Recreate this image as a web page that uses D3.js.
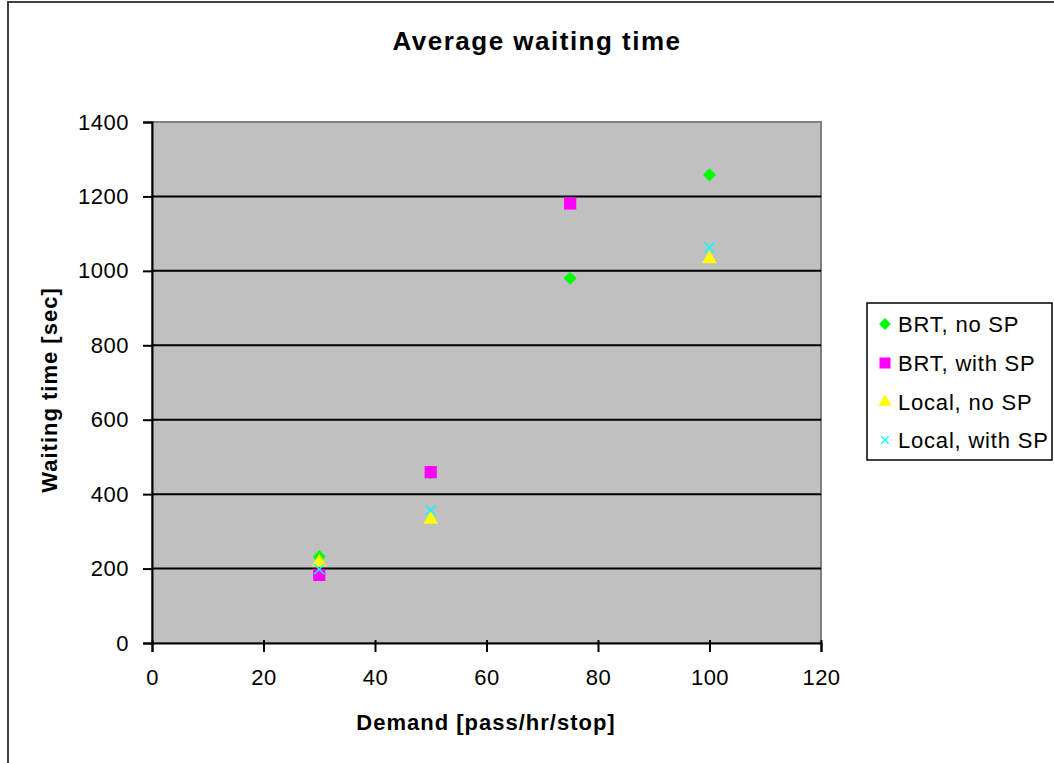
<!DOCTYPE html>
<html>
<head>
<meta charset="utf-8">
<script src="https://cdn.jsdelivr.net/npm/d3@7"></script>
<style>
  body { margin: 0; background: #fff; }
  svg { display: block; font-family: "Liberation Sans", Arial, sans-serif; }
</style>
</head>
<body>
<div id="chart"></div>
<script>
// Values
const demand = [30, 50, 75, 100];
const brtNoSP = [232, 457, 980, 1258];
const brtWithSP = [183, 459, 1181, null];
const localNoSP = [217, 332, null, 1032];
const localWithSP = [198, 356, null, 1063];

const seriesNames = ['BRT, no SP', 'BRT, with SP', 'Local, no SP', 'Local, with SP'];
const xTicks = [0, 20, 40, 60, 80, 100, 120];
const yTicks = [0, 200, 400, 600, 800, 1000, 1200, 1400];

const W = 1054, H = 763;
const plot = { left: 152, right: 821, top: 122, bottom: 643 };

const svg = d3.select('#chart').append('svg')
    .attr('width', W)
    .attr('height', H);

// outer chart frame (only left/top visible in the crop)
svg.append('rect')
    .attr('x', 8).attr('y', 2)
    .attr('width', W + 10).attr('height', H + 10)
    .attr('fill', '#fff')
    .attr('stroke', '#404040')
    .attr('stroke-width', 2);

const x = d3.scaleLinear().domain([0, 120]).range([plot.left, plot.right]);
const y = d3.scaleLinear().domain([0, 1400]).range([plot.bottom, plot.top]);

// plot area
svg.append('rect')
    .attr('x', plot.left).attr('y', plot.top)
    .attr('width', plot.right - plot.left)
    .attr('height', plot.bottom - plot.top)
    .attr('fill', '#c0c0c0')
    .attr('stroke', '#808080')
    .attr('stroke-width', 2);

// gridlines
svg.append('g').selectAll('line')
    .data(yTicks.filter(d => d > 0 && d < 1400))
    .enter().append('line')
    .attr('x1', plot.left).attr('x2', plot.right)
    .attr('y1', d => y(d)).attr('y2', d => y(d))
    .attr('stroke', '#000')
    .attr('stroke-width', 2);

// axes
const yAxis = svg.append('g')
    .attr('transform', `translate(${plot.left},0)`)
    .call(d3.axisLeft(y).tickValues(yTicks).tickFormat(d3.format('d')).tickSize(9).tickPadding(14));
const xAxis = svg.append('g')
    .attr('transform', `translate(0,${plot.bottom})`)
    .call(d3.axisBottom(x).tickValues(xTicks).tickFormat(d3.format('d')).tickSize(9).tickPadding(17));

[yAxis, xAxis].forEach(g => {
    g.select('.domain').attr('stroke', '#000').attr('stroke-width', 2);
    g.selectAll('.tick line').attr('stroke', '#000').attr('stroke-width', 2);
    g.selectAll('.tick text')
        .attr('fill', '#000')
        .style('font-size', '22px')
        .style('letter-spacing', '0.5px')
        .style('font-family', '"Liberation Sans", Arial, sans-serif');
});
xAxis.selectAll('.tick line').attr('y1', -3).attr('y2', 9);

// titles
svg.append('text')
    .attr('x', 537).attr('y', 50)
    .attr('text-anchor', 'middle')
    .style('font-size', '26px').style('font-weight', 'bold')
    .style('letter-spacing', '1.5px')
    .text('Average waiting time');

svg.append('text')
    .attr('x', 486).attr('y', 730)
    .attr('text-anchor', 'middle')
    .style('font-size', '22px').style('font-weight', 'bold')
    .style('letter-spacing', '1px')
    .text('Demand [pass/hr/stop]');

svg.append('text')
    .attr('transform', `translate(57,390) rotate(-90)`)
    .attr('text-anchor', 'middle')
    .style('font-size', '22px').style('font-weight', 'bold')
    .style('letter-spacing', '1px')
    .text('Waiting time [sec]');

// marker shapes
const markers = [
    { values: brtNoSP, color: '#00ff00', draw: () => d3.symbol(d3.symbolDiamond2, 110)() },
    { values: brtWithSP, color: '#ff00ff', draw: () => d3.symbol(d3.symbolSquare, 150)() },
    { values: localNoSP, color: '#ffff00', draw: () => d3.symbol(d3.symbolTriangle, 95)() },
    { values: localWithSP, color: '#00ffff', draw: () => 'M-5,-5L5,5M-5,5L5,-5' }
];

markers.forEach((m, i) => {
    const pts = demand.map((d, j) => ({ x: d, y: m.values[j] })).filter(p => p.y != null);
    svg.append('g').selectAll('path')
        .data(pts)
        .enter().append('path')
        .attr('transform', p => `translate(${x(p.x)},${y(p.y)})`)
        .attr('d', m.draw())
        .attr('fill', i === 3 ? 'none' : m.color)
        .attr('stroke', i === 3 ? m.color : 'none')
        .attr('stroke-width', 1.5);
});

// legend
const legend = svg.append('g');
legend.append('rect')
    .attr('x', 867).attr('y', 303)
    .attr('width', 185).attr('height', 157)
    .attr('fill', '#fff')
    .attr('stroke', '#000')
    .attr('stroke-width', 1.5);

const legendY = [324, 363, 402, 440];
seriesNames.forEach((name, i) => {
    const m = markers[i];
    const scale = i === 3 ? 0.75 : 0.9;
    legend.append('path')
        .attr('transform', `translate(885,${legendY[i]}) scale(${scale})`)
        .attr('d', m.draw())
        .attr('fill', i === 3 ? 'none' : m.color)
        .attr('stroke', i === 3 ? m.color : 'none')
        .attr('stroke-width', 1.5);
    legend.append('text')
        .attr('x', 898).attr('y', legendY[i] + 8)
        .style('font-size', '22px')
        .style('letter-spacing', '0.8px')
        .text(name);
});
</script>
</body>
</html>
